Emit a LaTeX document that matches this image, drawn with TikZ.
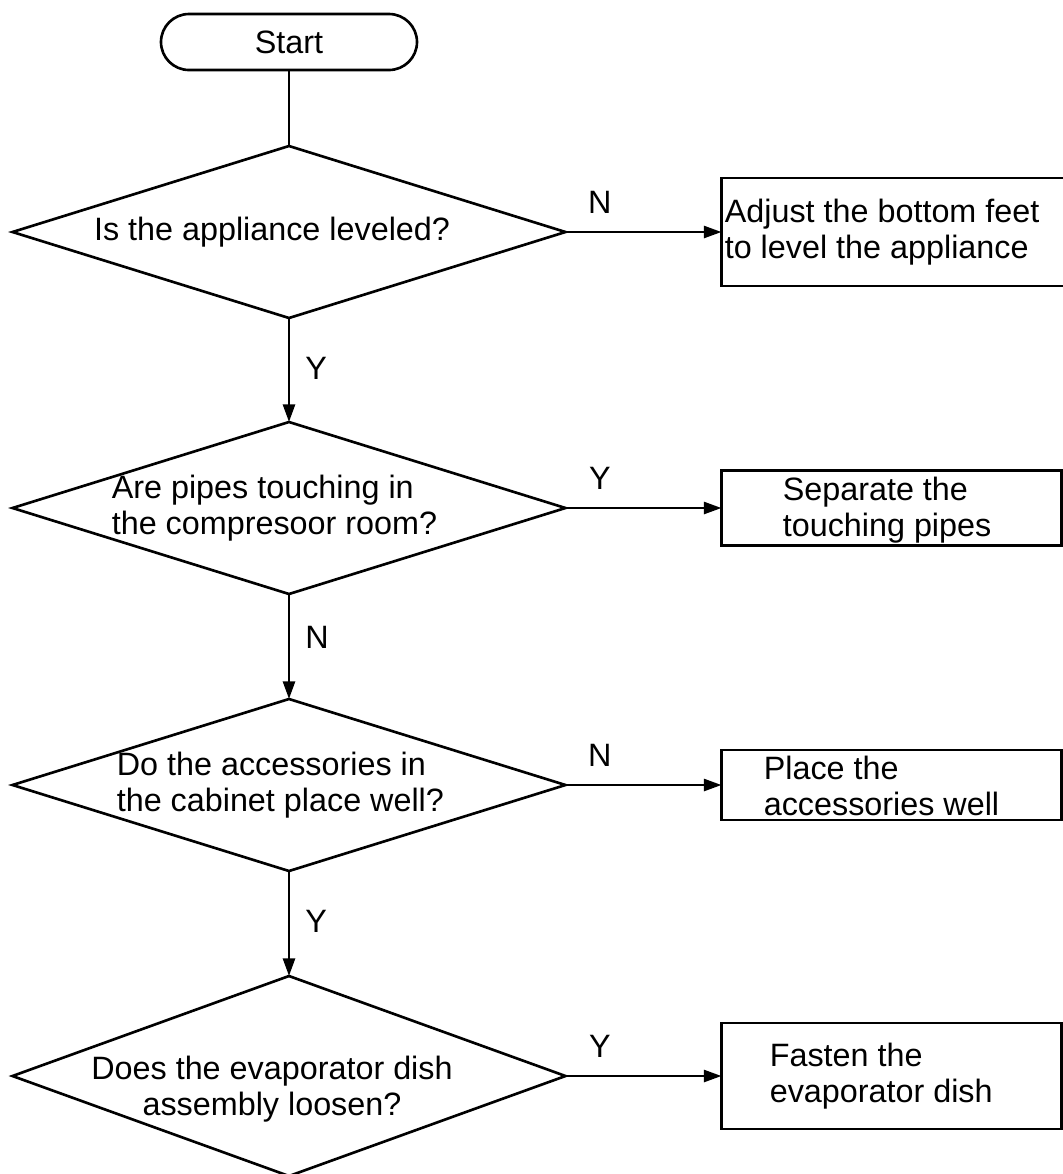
\documentclass[tikz,border=0pt]{standalone}
\usepackage{fontspec}
\setmainfont{Liberation Sans}
\usetikzlibrary{arrows.meta,shapes,positioning}
\tikzset{arrows={-{Triangle[length=5pt,width=3.4pt]}}}
\newcommand{\chartfont}{\fontsize{9.2}{10.4}\selectfont}
\tikzset{
  terminal/.style={draw, rectangle, rounded corners=0.28cm, minimum width=2.56cm,
    minimum height=0.56cm, inner sep=0pt, outer sep=0pt},
  decision/.style={draw, diamond, minimum width=5.53cm, minimum height=1.72cm,
    inner sep=0pt, outer sep=0pt},
  action/.style={draw, rectangle, minimum width=3.4cm, inner sep=0pt, outer sep=0pt},
  qtext/.style={inner sep=0pt},
  atext/.style={inner sep=0pt, align=left, anchor=west},
  lbl/.style={inner sep=0pt}
}

\begin{document}
\begin{tikzpicture}[node distance = 1.05cm, line width=0.75pt,
    every node/.append style={font=\chartfont}]
    \useasboundingbox (0,0) rectangle (10.63,-11.74);

    \node[terminal] (Start) at (2.89,-0.42) {Start};
    \node[decision] (Q1) [below = 0.76cm of Start] {};
    \node[decision] (Q2) [below = 1.04cm of Q1] {};
    \node[decision] (Q3) [below = of Q2] {};
    \node[decision, minimum height=2cm] (Q4) [below = of Q3] {};

    \node[qtext] (T1) at ([xshift=-0.17cm]Q1) {Is the appliance leveled?};
    \node[qtext, align=left, anchor=west] (T2) at ([xshift=0.98cm]Q2.west)
        {Are pipes touching in\\the compresoor room?};
    \node[qtext, align=left, anchor=west] (T3) at ([xshift=1.03cm]Q3.west)
        {Do the accessories in\\the cabinet place well?};
    \node[qtext, align=center] (T4) at ([xshift=-0.17cm, yshift=-0.13cm]Q4)
        {Does the evaporator dish\\assembly loosen?};

    \node[action, minimum width=3.55cm, minimum height=1.08cm] (A1) [right = 1.56cm of Q1] {};
    \node[action, minimum height=0.75cm] (A2) [right = 1.56cm of Q2] {};
    \node[action, minimum height=0.7cm] (A3) [right = 1.56cm of Q3] {};
    \node[action, minimum height=1.06cm] (A4) [right = 1.56cm of Q4] {};

    \node[atext] (U1) at ([xshift=0.02cm]A1.west) {Adjust the bottom feet\\to level the appliance};
    \node[atext] (U2) at ([xshift=0.6cm, yshift=-0.02cm]A2.west) {Separate the\\touching pipes};
    \node[atext] (U3) at ([xshift=0.41cm, yshift=-0.01cm]A3.west) {Place the\\accessories well};
    \node[atext] (U4) at ([xshift=0.47cm]A4.west) {Fasten the\\evaporator dish};

    \path (Start) edge [-] (Q1)
          (Q1) edge node[lbl, above=0.17cm, pos=0.22] {N} (A1)
          (Q1) edge node[lbl, right=0.15cm, pos=0.48] {Y} (Q2)
          (Q2) edge node[lbl, above=0.17cm, pos=0.22] {Y} (A2)
          (Q2) edge node[lbl, right=0.15cm, pos=0.41] {N} (Q3)
          (Q3) edge node[lbl, above=0.17cm, pos=0.22] {N} (A3)
          (Q3) edge node[lbl, right=0.15cm, pos=0.48] {Y} (Q4)
          (Q4) edge node[lbl, above=0.17cm, pos=0.22] {Y} (A4);
\end{tikzpicture}
\end{document}
